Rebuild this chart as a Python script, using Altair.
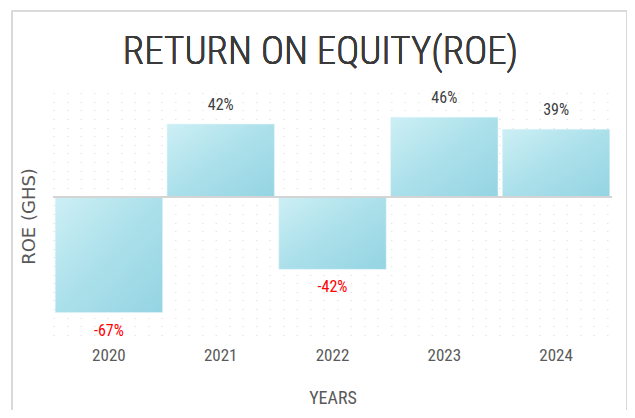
import altair as alt
import pandas as pd

years = ["2020", "2021", "2022", "2023", "2024"]
roe = [-0.67, 0.42, -0.42, 0.46, 0.39]
labels = ["-67%", "42%", "-42%", "46%", "39%"]
title_text = "RETURN ON EQUITY(ROE)"

df = pd.DataFrame({"year": years, "roe": roe, "label": labels})

NARROW = "Liberation Sans Narrow, Roboto Condensed, Arial Narrow, sans-serif"
W, H = 559, 242

x = alt.X("year:N", sort=years,
          scale=alt.Scale(paddingInner=0.04, paddingOuter=0.02),
          axis=alt.Axis(title="YEARS", labelAngle=0, ticks=False, domain=False,
                        labelFont=NARROW, labelFontSize=17, labelColor="#595959",
                        labelPadding=12, titleFont=NARROW, titleFontSize=18,
                        titleFontWeight="normal", titleColor="#595959",
                        titlePadding=26))
y = alt.Y("roe:Q", scale=alt.Scale(domain=[-0.8, 0.6], nice=False, zero=True),
          axis=alt.Axis(title="ROE (GHS)", labels=False, ticks=False, domain=False,
                        grid=True, gridColor="#e4e4e4", gridDash=[1.5, 12],
                        tickCount=28, titleFont="DejaVu Sans", titleFontSize=18,
                        titleFontWeight="normal", titleColor="#595959",
                        titleAngle=-90, titleX=-24, titleY=H / 2 + 2,
                        titleAlign="center", titleBaseline="middle"))

grad = alt.Gradient(gradient="linear",
                    stops=[alt.GradientStop(color="#cdeff5", offset=0),
                           alt.GradientStop(color="#abe0ea", offset=0.5),
                           alt.GradientStop(color="#94d4e3", offset=1)],
                    x1=0, x2=1, y1=0, y2=1)

frame = alt.Chart(df).mark_rect(fill=None, stroke="#d9d9d9", strokeWidth=1.2).encode(
    x=alt.value(-41), x2=alt.value(574), y=alt.value(-82), y2=alt.value(330))

title = alt.Chart(df).mark_text(font=NARROW, fontSize=39, fontWeight=300, color="#3a3a3a",
                                baseline="alphabetic", align="center").encode(
    x=alt.value(W / 2 - 12), y=alt.value(-29), text=alt.datum(title_text))

bars = alt.Chart(df).mark_bar(color=grad, stroke="#e0f4f8", strokeWidth=0.5).encode(x=x, y=y)

zero = alt.Chart(df).mark_rule(color="#d4d4d4", strokeWidth=1.5).encode(y=alt.datum(0))

pos = alt.Chart(df).transform_filter("datum.roe >= 0").mark_text(
    font=NARROW, fontSize=16, color="#404040", dy=-19, baseline="middle").encode(
    x=alt.X("year:N", sort=years), y="roe:Q", text="label:N")
neg = alt.Chart(df).transform_filter("datum.roe < 0").mark_text(
    font=NARROW, fontSize=16, color="#ff0000", dy=18, baseline="middle").encode(
    x=alt.X("year:N", sort=years), y="roe:Q", text="label:N")

chart = alt.layer(frame, title, bars, zero, pos, neg).properties(
    width=W, height=H,
    autosize=alt.AutoSizeParams(type="none"),
    padding={"left": 45, "top": 85, "right": 15, "bottom": 75},
).configure_view(stroke=None)

chart.save("out.html", embed_options={"renderer": "svg", "actions": False})
